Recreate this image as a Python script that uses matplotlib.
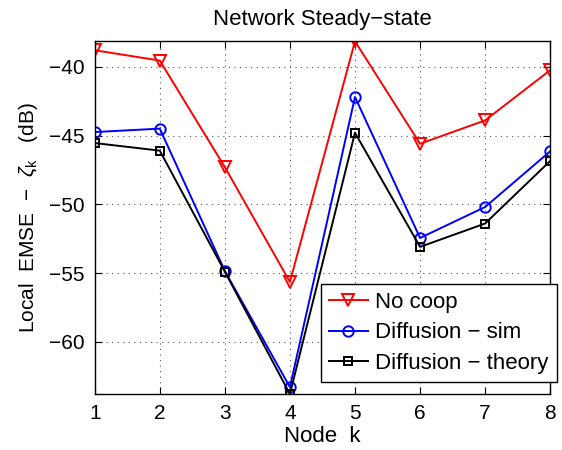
import matplotlib
matplotlib.use("Agg")
import matplotlib.pyplot as plt

plt.rcParams['font.family'] = ['Liberation Sans', 'DejaVu Sans']
plt.rcParams['mathtext.fontset'] = 'custom'
plt.rcParams['mathtext.rm'] = 'Liberation Sans'
plt.rcParams['mathtext.it'] = 'Liberation Sans:italic'

nodes = [1, 2, 3, 4, 5, 6, 7, 8]
no_coop = [-38.8, -39.55, -47.3, -55.65, -38.15, -45.6, -43.9, -40.25]
diff_sim = [-44.75, -44.5, -54.85, -63.3, -42.2, -52.45, -50.2, -46.15]
diff_theory = [-45.55, -46.1, -54.9, -63.8, -44.8, -53.1, -51.4, -46.85]
xticks = [1, 2, 3, 4, 5, 6, 7, 8]
yticks = [-60, -55, -50, -45, -40]

fig = plt.figure(figsize=(5.62, 4.5), dpi=100)
ax = fig.add_axes([0.1685, 0.1244, 0.8105, 0.7838])

lw = 1.4
ax.plot(nodes, no_coop, color='#ff0000', lw=lw, marker='v', ms=8,
        mfc='none', mec='#ff0000', mew=1.4, label='No coop')
ax.plot(nodes, diff_sim, color='#0000ff', lw=lw, marker='o', ms=7.5,
        mfc='none', mec='#0000ff', mew=1.4, label='Diffusion \u2212 sim')
ax.plot(nodes, diff_theory, color='black', lw=lw, marker='s', ms=6,
        mfc='none', mec='black', mew=1.4, label='Diffusion \u2212 theory')

ax.set_xlim(1, 8)
ax.set_ylim(-63.8, -38.15)
ax.set_xticks(xticks)
ax.set_yticks(yticks)
ax.set_yticklabels(['\u221260', '\u221255', '\u221250', '\u221245', '\u221240'])
ax.tick_params(direction='in', length=5, width=0.8, labelsize=15,
               top=True, right=True, pad=7)
ax.grid(True, linestyle=(0, (1, 4)), color='#555555', lw=0.8)
for s in ax.spines.values():
    s.set_linewidth(1.0)

ax.set_title('Network Steady\u2212state', fontsize=16, pad=12)
ax.set_xlabel('Node  k', fontsize=16, labelpad=2)
ax.set_ylabel('Local  EMSE  \u2212  $\\zeta_{\\mathrm{k}}$   (dB)', fontsize=15, labelpad=7)

leg = ax.legend(loc='upper left', bbox_to_anchor=(321/562, 1 - 284/450),
                bbox_transform=fig.transFigure, fontsize=16, frameon=True,
                fancybox=False, edgecolor='black', framealpha=1,
                handlelength=1.75, handletextpad=0.33, labelspacing=0.42,
                borderpad=0.36, borderaxespad=0)
leg.get_frame().set_linewidth(1.0)

fig.savefig('out.png', dpi=100)
